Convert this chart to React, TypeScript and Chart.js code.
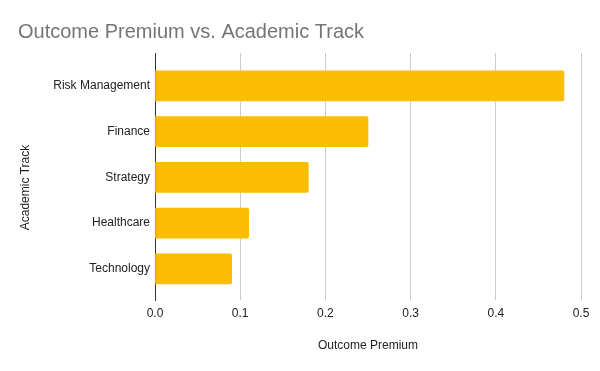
import React, { useEffect, useRef } from "react";
import { Chart, registerables } from "chart.js";

Chart.register(...registerables);

const categories = ["Risk Management", "Finance", "Strategy", "Healthcare", "Technology"];
const premiums = [0.48, 0.25, 0.18, 0.11, 0.09];
const xTicks = [0, 0.1, 0.2, 0.3, 0.4, 0.5];

const FONT = "'Liberation Sans', Arial, sans-serif";
const Y_TITLE = "Academic Track";

const yTitlePlugin = {
  id: "yTitle",
  afterDraw(chart: any) {
    const ctx = chart.ctx;
    ctx.save();
    ctx.translate(26, chart.height / 2 + 2);
    ctx.rotate(-Math.PI / 2);
    ctx.fillStyle = "#222222";
    ctx.font = `12px ${FONT}`;
    ctx.textAlign = "center";
    ctx.textBaseline = "middle";
    ctx.fillText(Y_TITLE, 0, 0);
    ctx.restore();
  },
};

export default function App() {
  const ref = useRef<HTMLCanvasElement | null>(null);

  useEffect(() => {
    if (!ref.current) return;
    const chart = new Chart(ref.current, {
      type: "bar",
      data: {
        datasets: [
          {
            label: "Outcome Premium",
            data: premiums.map((v, i) => ({ x: v, y: i })),
            backgroundColor: "#FBBC04",
            borderWidth: 0,
            borderRadius: 2,
            borderSkipped: "start",
            barThickness: 30,
          },
        ],
      },
      plugins: [yTitlePlugin],
      options: {
        indexAxis: "y",
        responsive: false,
        animation: false,
        layout: { padding: { left: 18, right: 19, top: 0, bottom: 0 } },
        plugins: {
          legend: { display: false },
          tooltip: { enabled: false },
          title: {
            display: true,
            text: "Outcome Premium vs. Academic Track",
            align: "start",
            color: "#757575",
            font: { family: FONT, size: 20, weight: "normal" },
            padding: { top: 20, bottom: 9 },
          },
        },
        scales: {
          x: {
            type: "linear",
            min: xTicks[0],
            max: xTicks[xTicks.length - 1],
            afterBuildTicks: (s: any) => {
              s.ticks = xTicks.map((v) => ({ value: v }));
            },
            afterFit: (s: any) => {
              s.height = 71;
            },
            ticks: {
              color: "#222222",
              font: { family: FONT, size: 12 },
              padding: 6,
              callback: (v: any) => Number(v).toFixed(1),
            },
            grid: { color: "#cccccc", drawTicks: false, lineWidth: 1 },
            border: { display: false },
            title: {
              display: true,
              text: "Outcome Premium",
              color: "#222222",
              font: { family: FONT, size: 12 },
              padding: { top: 0, bottom: 18 },
            },
          },
          y: {
            type: "linear",
            reverse: true,
            offset: false,
            grace: 0,
            min: -0.72,
            max: 4.68,
            afterBuildTicks: (s: any) => {
              s.ticks = categories.map((_, i) => ({ value: i }));
            },
            afterFit: (s: any) => {
              s.width = 137;
            },
            ticks: {
              color: "#222222",
              font: { family: FONT, size: 12 },
              padding: 5,
              callback: (v: any) => categories[v as number] ?? "",
            },
            grid: { display: false, drawTicks: false, offset: false },
            border: { display: true, color: "#333333", width: 1 },
            title: { display: false },
          },
        },
      },
    } as any);
    return () => chart.destroy();
  }, []);

  return (
    <div style={{ position: "fixed", left: 0, top: 0, width: 600, height: 371, background: "#fff" }}>
      <canvas ref={ref} width={600} height={371} />
    </div>
  );
}
